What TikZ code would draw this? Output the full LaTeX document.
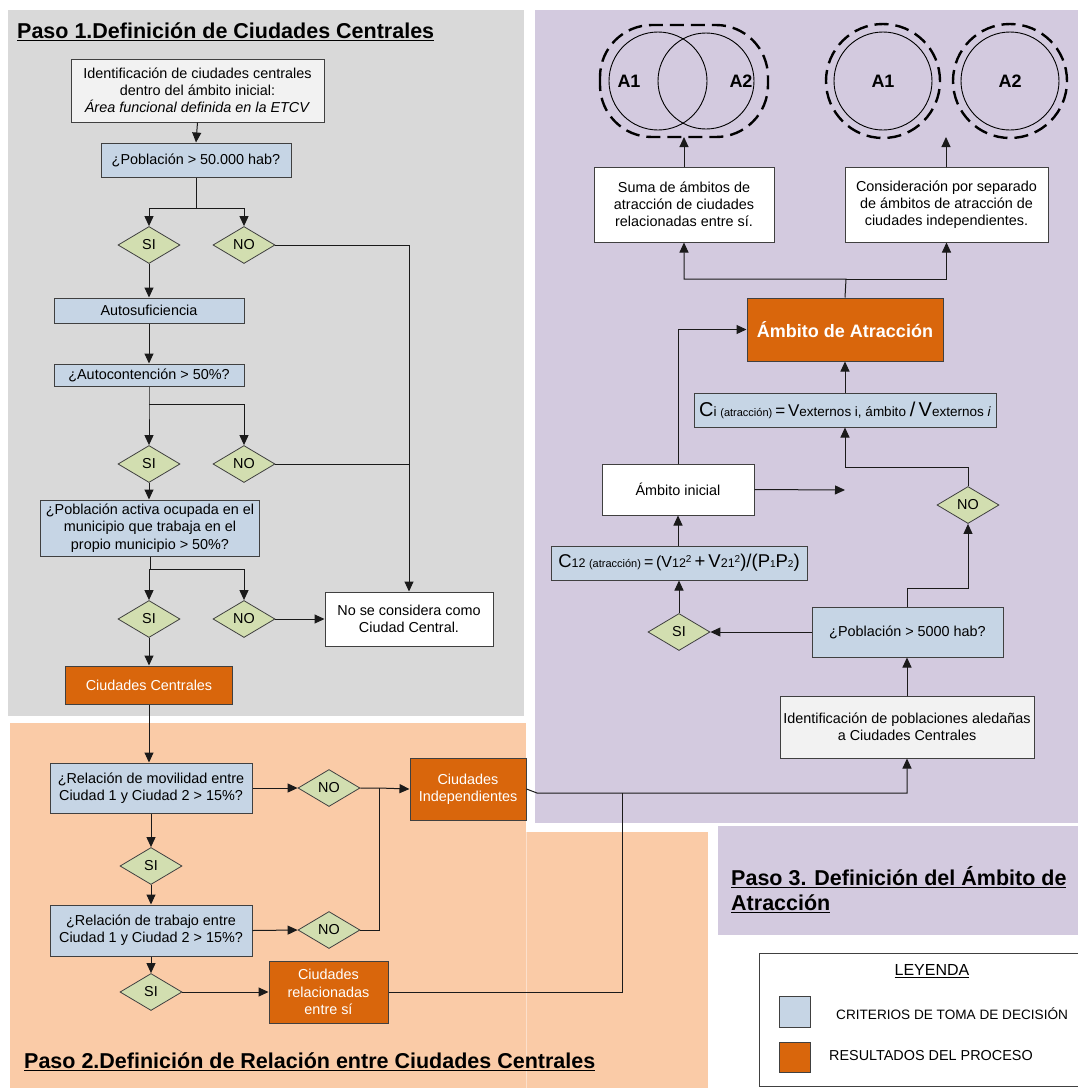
\documentclass[tikz,border=0pt]{standalone}
\usepackage{fontspec}
\setmainfont{Liberation Sans}
\usetikzlibrary{shapes.geometric,arrows.meta}
\definecolor{grayP}{HTML}{D9D9D9}
\definecolor{purpP}{HTML}{D3CADF}
\definecolor{orP}{HTML}{FACBA7}
\definecolor{orEdge}{HTML}{FCE0CC}
\definecolor{critC}{HTML}{C6D5E5}
\definecolor{resC}{HTML}{D9660C}
\definecolor{decC}{HTML}{D2DEB0}
\definecolor{idC}{HTML}{F2F2F2}
\definecolor{bordC}{HTML}{404040}
\definecolor{lineC}{HTML}{1A1A1A}
\newcommand\myul[2][1.4pt]{\setbox0=\hbox{#2}\rlap{\copy0}\rule[-3pt]{\wd0}{#1}}
\newcommand\fsz[1]{\fontsize{#1}{#1}\selectfont}
\tikzset{
  every node/.style={font=\fontsize{14.4}{17.2}\selectfont, align=center, inner sep=0pt},
  sz/.style 2 args={minimum width=#1, minimum height=#2},
  bx/.style={draw=bordC, line width=1pt, rectangle},
  critbox/.style={bx, fill=critC},
  resbox/.style={bx, fill=resC, text=white},
  whitebox/.style={bx, fill=white},
  idbox/.style={bx, fill=idC},
  dec/.style={diamond, draw=bordC, line width=0.8pt, fill=decC, minimum width=62pt, minimum height=37pt, inner sep=0pt},
  arr/.style={-{Triangle[length=10pt,width=9pt]}, line width=1pt, draw=lineC},
  ln/.style={line width=1pt, draw=lineC},
  title/.style={font=\fontsize{21.5}{25}\selectfont\bfseries, anchor=base west},
  vdash/.style={draw=black, line width=2.4pt, dash pattern=on 14pt off 7pt},
  vcirc/.style={draw=black, line width=0.9pt},
  vtext/.style={font=\fontsize{18}{20}\selectfont\bfseries},
}
\begin{document}
\begin{tikzpicture}[x=1pt,y=-1pt]
\useasboundingbox (0,0) rectangle (1078,1088);
\fill[white] (0,0) rectangle (1078,1088);
% panels
\fill[grayP] (8,10) rectangle (524,716);
\fill[purpP] (535,10) rectangle (1090,823);
\fill[purpP] (718,826) rectangle (1090,935);
\fill[orP] (10,723) rectangle (526,1095);
\fill[orP] (526,832) rectangle (708,1095);
\draw[orEdge, line width=1pt] (526,832) -- (526,1095);

% titles
\node[title] (t1) at (17,38) {\myul{Paso 1.Definición de Ciudades Centrales}};
\node[title] (t2) at (24,1068) {\myul{Paso 2.Definición de Relación entre Ciudades Centrales}};
\node[title] (t3a) at (731,885) {\myul{Paso 3. Definición del Ámbito de}};
\node[title] (t3b) at (731,910) {\myul{Atracción}};

% ---------- Paso 1 ----------
\node[idbox, sz={253pt}{63pt}] (b1) at (197.5,90.5) {Identificación de ciudades centrales\\dentro del ámbito inicial:\\\textit{Área funcional definida en la ETCV}};
\node[critbox, sz={190pt}{34pt}] (b2) at (196,160) {¿Población > 50.000 hab?};
\node[dec] (si1) at (149,245) {SI};
\node[dec] (no1) at (244,245) {NO};
\node[critbox, sz={190pt}{25pt}] (auto) at (149,310.5) {Autosuficiencia};
\node[critbox, sz={190pt}{22pt}] (autoc) at (149,375) {¿Autocontención > 50\%?};
\node[dec] (si2) at (149,464) {SI};
\node[dec] (no2) at (244,464) {NO};
\node[critbox, sz={219pt}{56pt}] (pa) at (150,528) {¿Población activa ocupada en el\\municipio que trabaja en el\\propio municipio > 50\%?};
\node[dec] (si3) at (149,619) {SI};
\node[dec] (no3) at (244,619) {NO};
\node[whitebox, sz={168pt}{54pt}] (nc) at (409,619) {No se considera como\\Ciudad Central.};
\node[resbox, sz={167pt}{38pt}] (cc) at (149,685) {Ciudades Centrales};

\draw[arr] (b1.south) -- (b2.north);
\coordinate (s1) at (196,208);
\draw[arr] (b2.south) -- (s1) -| (si1.north);
\draw[arr] (s1) -| (no1.north);
\draw[arr] (no1.east) -| (nc.north);
\draw[arr] (si1.south) -- (auto.north);
\draw[arr] (auto.south) -- (autoc.north);
\coordinate (s2) at (149,404);
\draw[arr] (autoc.south) -- (s2) -| (si2.north);
\draw[arr] (s2) -| (no2.north);
\draw[ln] (no2.east) -- (no2.east -| nc.north);
\draw[arr] (si2.south) -- (si2.south |- pa.north);
\coordinate (s3) at (150,569);
\draw[arr] (pa.south) -- (s3) -| (si3.north);
\draw[arr] (s3) -| (no3.north);
\draw[arr] (no3.east) -- (nc.west);
\draw[arr] (si3.south) -- (cc.north);

% ---------- Paso 2 ----------
\node[critbox, sz={202pt}{50pt}] (rm) at (151,788) {¿Relación de movilidad entre\\Ciudad 1 y Ciudad 2 > 15\%?};
\node[dec] (nor1) at (329,788) {NO};
\node[resbox, sz={116pt}{62pt}] (ci) at (468,789) {Ciudades\\Independientes};
\node[dec] (sir1) at (151,866) {SI};
\node[critbox, sz={202pt}{51pt}] (rt) at (151,930.5) {¿Relación de trabajo entre\\Ciudad 1 y Ciudad 2 > 15\%?};
\node[dec] (nor2) at (329,930) {NO};
\node[dec] (sir2) at (151,992) {SI};
\node[resbox, sz={119pt}{62pt}] (cr) at (328.5,992) {Ciudades\\relacionadas\\entre sí};

\draw[arr] (cc.south) -- (cc.south |- rm.north);
\draw[arr] (rm.east) -- (nor1.west);
\coordinate (j1) at (379,788);
\draw[arr] (nor1.east) -- (j1) -- (ci.west);
\draw[ln] (nor2.east) -| (j1);
\draw[arr] (rm.south) -- (sir1.north);
\draw[arr] (sir1.south) -- (rt.north);
\draw[arr] (rt.east) -- (nor2.west);
\draw[arr] (rt.south) -- (sir2.north);
\draw[arr] (sir2.east) -- (cr.west);

% ---------- Paso 3 ----------
\node[resbox, sz={196pt}{63pt}, font=\fontsize{18}{20}\selectfont\bfseries] (aa) at (845,329.5) {Ámbito de Atracción};
\node[critbox, sz={302pt}{34pt}] (cif) at (845,410) {\fsz{20}C\fsz{13.5}i\ \fsz{11}(atracción)\ \fsz{17}=\,V\fsz{13.5}externos i, ámbito\ \fsz{20}/\,V\fsz{13.5}externos \textit{i}};
\node[whitebox, sz={152pt}{51pt}] (ai) at (678,489.5) {Ámbito inicial};
\node[dec] (no5) at (968,505) {NO};
\node[critbox, sz={256pt}{34pt}] (c12) at (679,563) {\fsz{18.5}C\fsz{12.5}12\ \fsz{11}(atracción)\ \fsz{16}=\,(V\fsz{12.5}12\raisebox{5pt}{\fsz{10}2}\fsz{18.5}\,+\,V\fsz{12.5}21\raisebox{5pt}{\fsz{10}2}\fsz{18.5})/(P\fsz{10}1\fsz{18.5}P\fsz{10}2\fsz{18.5})};
\node[dec] (si5) at (679,632) {SI};
\node[critbox, sz={191pt}{50pt}] (p5) at (907.5,632) {¿Población > 5000 hab?};
\node[idbox, sz={254pt}{62pt}] (idp) at (907,727) {Identificación de poblaciones aledañas\\a Ciudades Centrales};
\node[whitebox, sz={180pt}{75pt}] (suma) at (684,204.5) {Suma de ámbitos de\\atracción de ciudades\\relacionadas entre sí.};
\node[whitebox, sz={203pt}{75pt}] (cons) at (946.5,204.5) {Consideración por separado\\de ámbitos de atracción de\\ciudades independientes.};

% Venn diagrams
\draw[vdash, rounded corners=52pt] (600,25) rectangle (768,137);
\draw[vcirc] (658,81) circle (49pt);
\draw[vcirc] (706,81) circle (48pt);
\node[vtext] (la1) at (629,81) {A1};
\node[vtext] (la2) at (741,81) {A2};
\draw[vcirc] (883,81) circle (49pt);
\draw[vdash] (883,81) circle (57pt);
\draw[vcirc] (1010,81) circle (49pt);
\draw[vdash] (1010,81) circle (57pt);
\node[vtext] (ra1) at (883,81) {A1};
\node[vtext] (ra2) at (1010,81) {A2};
\coordinate (vennL) at (684,137);
\coordinate (vennR) at (946,137);

% connectors Paso 3
\coordinate (j3) at (622,793);
\coordinate (k1) at (537,793);
\draw[arr] (ci.east) -- (k1) -| (idp.south);
\draw[ln] (cr.east) -| (j3);
\draw[arr] (idp.north) -- (idp.north |- p5.south);
\draw[arr] (p5.west) -- (si5.east);
\coordinate (k2) at (907,588);
\draw[arr] (p5.north -| k2) -- (k2) -| (no5.south);
\coordinate (k3) at (968,467);
\draw[arr] (no5.north) -- (k3) -| (cif.south);
\draw[arr] (si5.north) -- (c12.south);
\draw[arr] (c12.north -| ai.south) -- (ai.south);
\coordinate (aiend) at (845,490);
\draw[arr] (ai.east) -- (aiend);
\draw[arr] (ai.north) |- (aa.west);
\draw[arr] (cif.north) -- (aa.south);
\coordinate (k4) at (846,279);
\draw[arr] (aa.north) -- (k4) -| (suma.south);
\draw[arr] (k4) -| (cons.south);
\draw[arr] (suma.north) -- (vennL);
\draw[arr] (cons.north -| vennR) -- (vennR);

% Legend
\node[draw=bordC, line width=1pt, fill=white, anchor=north west, minimum width=335pt, minimum height=133pt] (leg) at (759,953) {};
\node[font=\fontsize{16}{18}\selectfont] (legt) at (932,971) {\myul[0.9pt]{LEYENDA}};
\node[critbox, line width=0.8pt, sz={31pt}{31pt}] (lb1) at (794.5,1011.5) {};
\node[resbox, line width=0.8pt, sz={31pt}{30pt}] (lb2) at (794.5,1057) {};
\node[anchor=west, font=\fontsize{13.6}{16}\selectfont] (lt1) at (836,1014) {CRITERIOS DE TOMA DE DECISIÓN};
\node[anchor=west] (lt2) at (829,1056) {RESULTADOS DEL PROCESO};
\end{tikzpicture}
\end{document}
